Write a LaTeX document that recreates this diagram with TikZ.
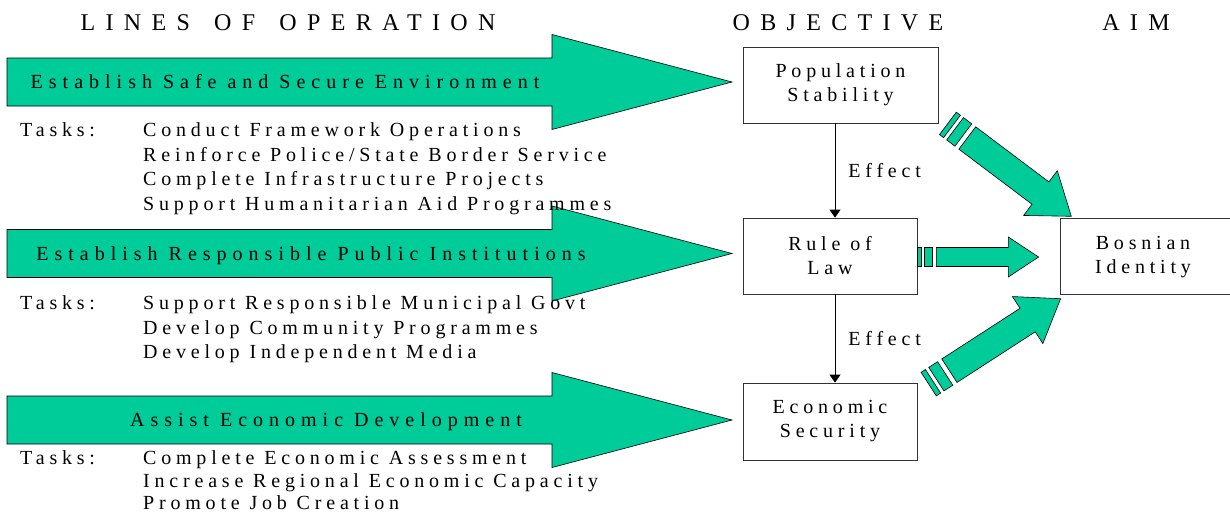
\documentclass[tikz,border=0pt]{standalone}
\usepackage{fontspec}
\setmainfont{Liberation Serif}
\newfontfamily\bodyfont[LetterSpace=24]{Liberation Serif}
\newfontfamily\labelfont[LetterSpace=30]{Liberation Serif}
\newfontfamily\titlefont[LetterSpace=43]{Liberation Serif}
\usetikzlibrary{calc,arrows.meta}
\definecolor{opgreen}{HTML}{00CC99}

% block arrow for one line of operation: #1 centre y, #2 label name, #3 label x, #4 label
\newcommand\oparrow[4]{%
  \draw[lineop] (7,#1-24) -- (552,#1-24) -- (552,#1-47.5) -- (732,#1)
    -- (552,#1+47.5) -- (552,#1+24) -- (7,#1+24) -- cycle;
  \node[lbl, anchor=base] (#2) at (#3,#1+6.5) {#4};}

% one line of a task list: #1 name, #2 baseline y, #3 text
\newcommand\taskline[3]{\node[txt, anchor=base west] (#1) at (143,#2) {#3};}

% striped block arrow from coordinate #1 to coordinate #2,
% #3 half width of the shaft, #4 half width of the head
\newcommand\stripearrow[4]{%
  \pgfpointdiff{\pgfpointanchor{#1}{center}}{\pgfpointanchor{#2}{center}}%
  \pgfgetlastxy{\sadx}{\sady}%
  \pgfmathsetmacro\saAng{atan2(\sady,\sadx)}%
  \pgfmathsetmacro\saLen{veclen(\sadx,\sady)}%
  \pgfmathsetmacro\saA{0.033*\saLen}%
  \pgfmathsetmacro\saB{0.058*\saLen}%
  \pgfmathsetmacro\saC{0.125*\saLen}%
  \pgfmathsetmacro\saD{0.157*\saLen}%
  \pgfmathsetmacro\saE{0.75*\saLen}%
  \begin{scope}[shift={(#1)}, rotate=\saAng]
    \draw[lineop] (0,-#3) rectangle (\saA,#3);
    \draw[lineop] (\saB,-#3) rectangle (\saC,#3);
    \draw[lineop] (\saD,-#3) -- (\saE,-#3) -- (\saE,-#4) -- (\saLen,0)
      -- (\saE,#4) -- (\saE,#3) -- (\saD,#3) -- cycle;
  \end{scope}}

\newcommand\wsp{\ \hspace{8pt}}

\begin{document}
\begin{tikzpicture}[x=1pt,y=-1pt,
  txt/.style={font=\bodyfont\fontsize{20}{24}\selectfont, inner sep=0pt},
  lbl/.style={font=\labelfont\fontsize{20}{24}\selectfont, inner sep=0pt},
  ttl/.style={font=\titlefont\fontsize{24}{28}\selectfont, inner sep=0pt, anchor=base},
  box/.style={draw=black!80, line width=0.8pt, fill=white, align=center},
  lineop/.style={fill=opgreen, draw=black, line width=0.6pt, line join=miter},
  effect/.style={-{Triangle[length=8pt,width=11pt]}, line width=0.8pt}]
\useasboundingbox (0,0) rectangle (1230,514);

% column headings
\node[ttl] (hlines) at (288,30) {LINES\wsp OF\wsp OPERATION};
\node[ttl] (hobj) at (838,30) {OBJECTIVE};
\node[ttl] (haim) at (1136,30) {AIM};

% lines of operation
\oparrow{82}{op1}{285}{Establish Safe and Secure Environment}
\oparrow{253.5}{op2}{311}{Establish Responsible Public Institutions}
\oparrow{420}{op3}{326}{Assist Economic Development}

% task lists
\node[txt, anchor=base west] (tasks1) at (20,136.5) {Tasks:};
\taskline{t11}{136.5}{Conduct Framework Operations}
\taskline{t12}{161}{Reinforce Police/State Border Service}
\taskline{t13}{185.5}{Complete Infrastructure Projects}
\taskline{t14}{210}{Support Humanitarian Aid Programmes}

\node[txt, anchor=base west] (tasks2) at (20,309.5) {Tasks:};
\taskline{t21}{309.5}{Support Responsible Municipal Govt}
\taskline{t22}{334}{Develop Community Programmes}
\taskline{t23}{358.5}{Develop Independent Media}

\node[txt, anchor=base west] (tasks3) at (20,464) {Tasks:};
\taskline{t31}{464}{Complete Economic Assessment}
\taskline{t32}{487}{Increase Regional Economic Capacity}
\taskline{t33}{509.5}{Promote Job Creation}

% objectives
\node[box, txt, minimum width=195pt, minimum height=76pt] (pop) at (840.5,85) {Population\\Stability};
\node[box, txt, minimum width=174pt, minimum height=76pt] (law) at (830,256) {Rule of\\Law};
\node[box, txt, minimum width=174pt, minimum height=77pt] (eco) at (830,421.5) {Economic\\Security};

% aim
\node[box, minimum width=175pt, minimum height=76pt] (bos) at (1147.5,256) {};
\node[txt, align=center] (bostxt) at (1143,257) {Bosnian\\Identity};

% effects between objectives
\coordinate (axis) at (835,0);
\draw[effect] (pop.south -| axis) -- node[txt, right=13pt] (eff1) {Effect} (law.north -| axis);
\draw[effect] (law.south -| axis) -- node[txt, right=13pt] (eff2) {Effect} (eco.north -| axis);

% objectives feeding the aim
\coordinate (d1s) at ($(pop.south east)+(9.5,0)$);
\coordinate (d1e) at ($(bos.north west)+(11.7,-1.3)$);
\coordinate (d2s) at ($(law.east)+(0,1)$);
\coordinate (d2e) at ($(bos.west)+(-21,1)$);
\coordinate (d3s) at ($(eco.north east)+(11.3,1.5)$);
\coordinate (d3e) at ($(bos.south west)+(1,4.3)$);
\stripearrow{d1s}{d1e}{14}{28}
\stripearrow{d2s}{d2e}{9.5}{20}
\stripearrow{d3s}{d3e}{14}{28}
\end{tikzpicture}
\end{document}
